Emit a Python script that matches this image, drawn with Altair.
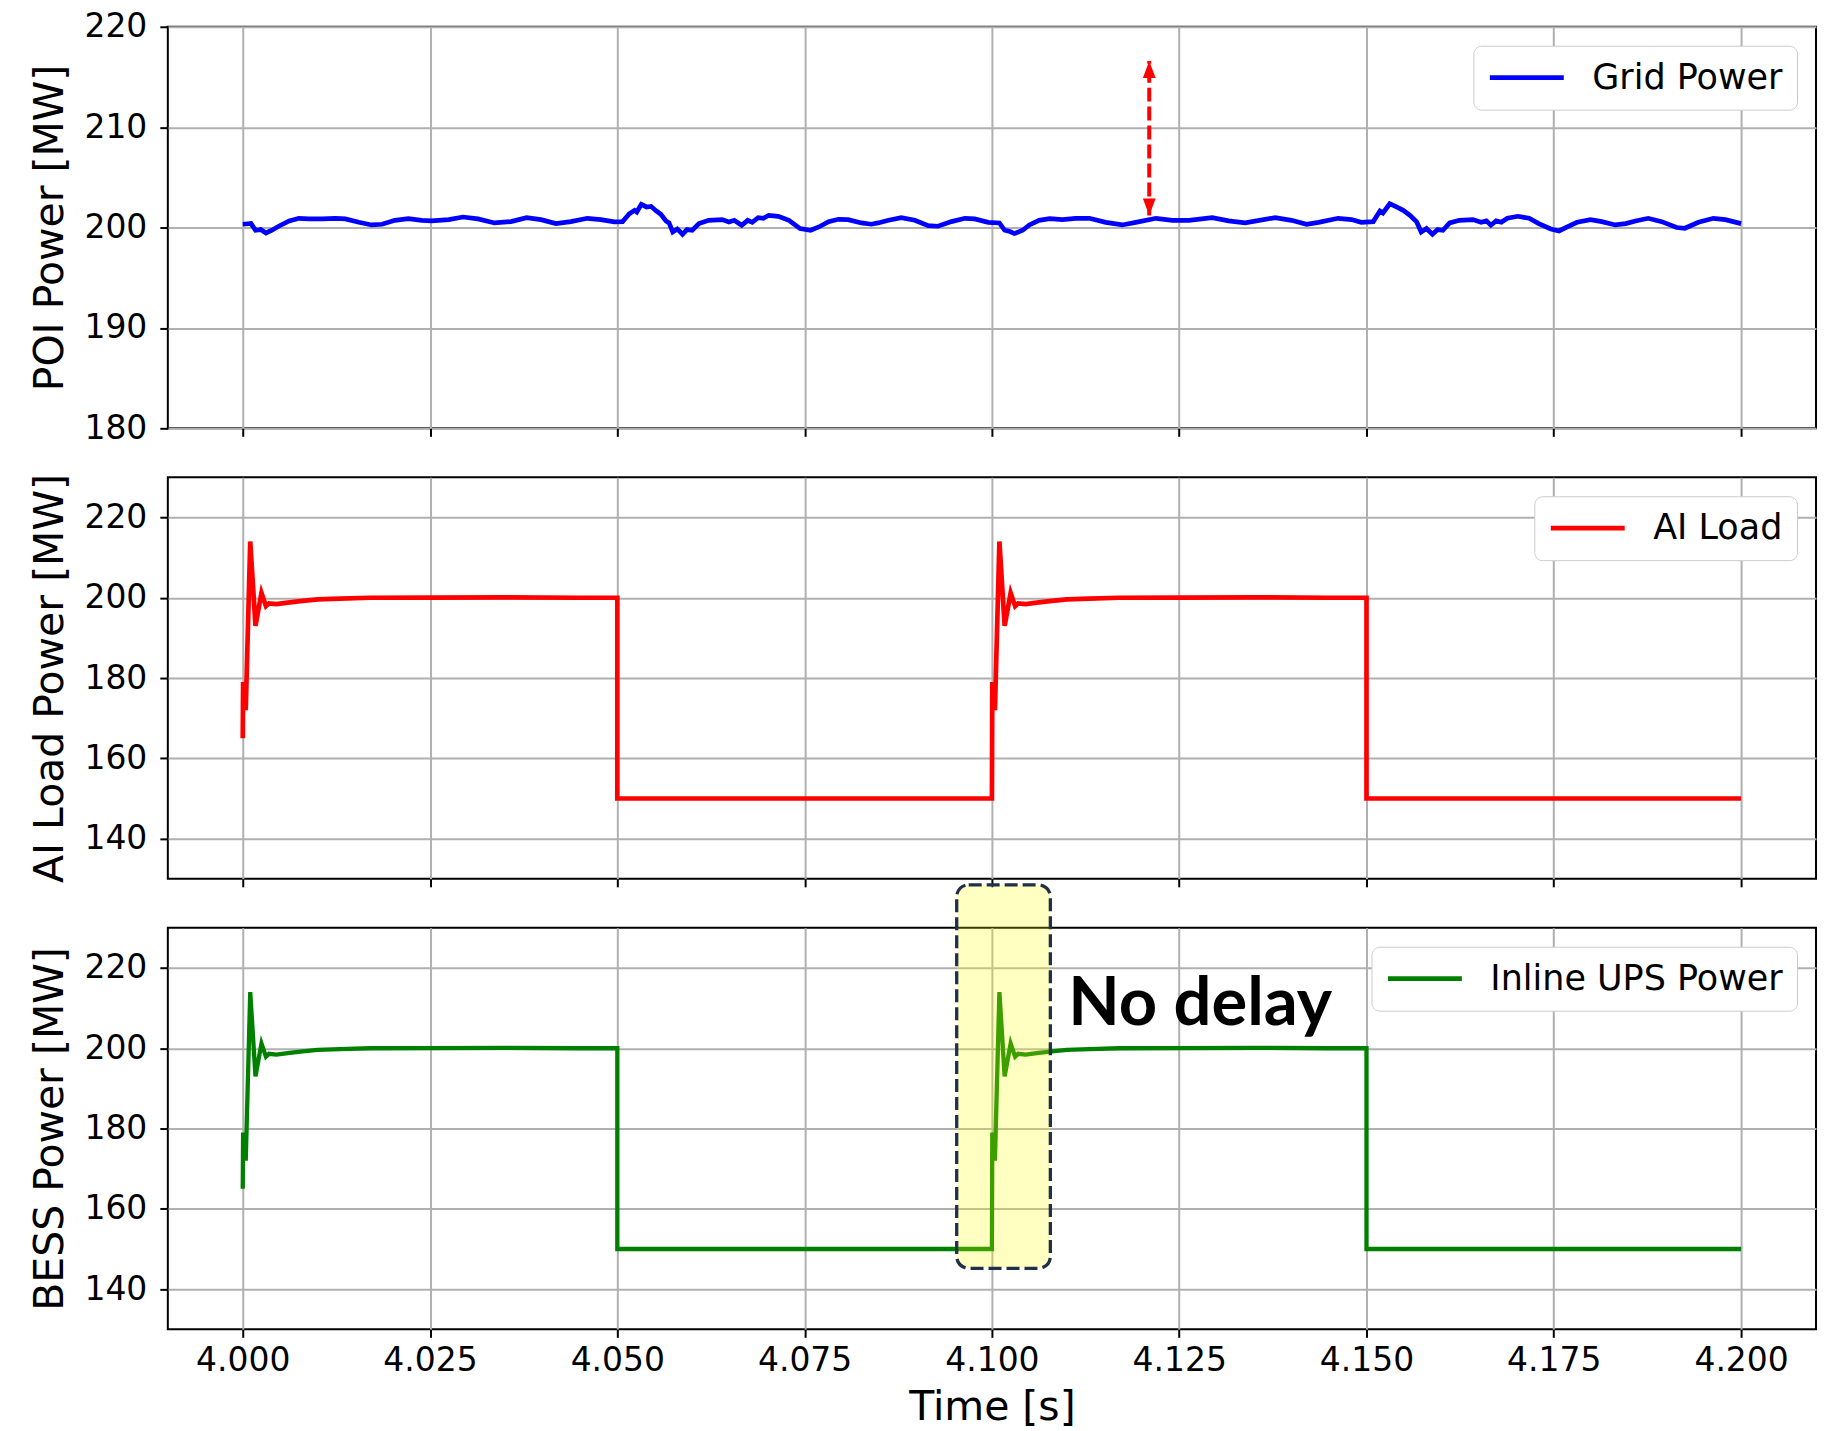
import altair as alt
import pandas as pd

# ---------------- data ----------------
grid_t = [4.0000, 4.0011, 4.0017, 4.0024, 4.0031, 4.0039, 4.0048, 4.0062, 4.0075, 4.0088,
          4.0106, 4.0124, 4.0137, 4.0155, 4.0172, 4.0186, 4.0203, 4.0221, 4.0239, 4.0252,
          4.0275, 4.0294, 4.0314, 4.0336, 4.0358, 4.0379, 4.0398, 4.0418, 4.0438, 4.0460,
          4.0478, 4.0496, 4.0507, 4.0516, 4.0523, 4.0526, 4.0532, 4.0539, 4.0545, 4.0552,
          4.0558, 4.0565, 4.0569, 4.0574, 4.0580, 4.0587, 4.0593, 4.0600, 4.0609, 4.0622,
          4.0640, 4.0649, 4.0656, 4.0666, 4.0674, 4.0680, 4.0688, 4.0695, 4.0702, 4.0715,
          4.0729, 4.0744, 4.0758, 4.0769, 4.0782, 4.0795, 4.0808, 4.0826, 4.0839, 4.0848,
          4.0862, 4.0879, 4.0897, 4.0915, 4.0928, 4.0946, 4.0964, 4.0977, 4.0995, 4.1010,
          4.1017, 4.1024, 4.1030, 4.1041, 4.1050, 4.1063, 4.1077, 4.1094, 4.1112, 4.1130,
          4.1152, 4.1174, 4.1192, 4.1219, 4.1241, 4.1263, 4.1294, 4.1316, 4.1338, 4.1378,
          4.1400, 4.1420, 4.1436, 4.1462, 4.1480, 4.1493, 4.1509, 4.1518, 4.1522, 4.1531,
          4.1540, 4.1549, 4.1558, 4.1567, 4.1573, 4.1580, 4.1588, 4.1595, 4.1602, 4.1611,
          4.1624, 4.1642, 4.1653, 4.1660, 4.1666, 4.1673, 4.1680, 4.1688, 4.1702, 4.1717,
          4.1730, 4.1746, 4.1757, 4.1768, 4.1781, 4.1799, 4.1814, 4.1832, 4.1846, 4.1859,
          4.1876, 4.1894, 4.1914, 4.1925, 4.1943, 4.1963, 4.1979, 4.2000]
grid_mw = [200.33, 200.40, 199.73, 199.80, 199.46, 199.73, 200.13, 200.65, 200.92, 200.86,
           200.86, 200.92, 200.86, 200.52, 200.26, 200.33, 200.72, 200.89, 200.72, 200.66,
           200.79, 201.05, 200.86, 200.46, 200.59, 200.99, 200.79, 200.39, 200.59, 200.92,
           200.79, 200.56, 200.59, 201.38, 201.72, 201.55, 202.31, 202.05, 202.11, 201.65,
           201.32, 200.65, 200.46, 199.56, 199.86, 199.33, 199.80, 199.73, 200.39, 200.72,
           200.79, 200.56, 200.72, 200.23, 200.72, 200.52, 200.99, 200.92, 201.22, 201.12,
           200.72, 199.90, 199.73, 200.06, 200.59, 200.82, 200.79, 200.46, 200.33, 200.46,
           200.72, 200.99, 200.72, 200.19, 200.13, 200.59, 200.92, 200.86, 200.52, 200.46,
           199.73, 199.60, 199.40, 199.73, 200.26, 200.72, 200.89, 200.79, 200.92, 200.92,
           200.52, 200.26, 200.52, 200.92, 200.72, 200.72, 200.99, 200.66, 200.46, 200.99,
           200.72, 200.33, 200.52, 200.92, 200.79, 200.52, 200.59, 201.65, 201.45, 202.37,
           202.05, 201.72, 201.22, 200.56, 199.56, 199.90, 199.33, 199.80, 199.73, 200.46,
           200.72, 200.79, 200.52, 200.66, 200.23, 200.66, 200.52, 200.92, 201.12, 200.92,
           200.39, 199.86, 199.66, 200.06, 200.52, 200.79, 200.59, 200.26, 200.39, 200.66,
           200.92, 200.59, 200.00, 199.93, 200.52, 200.92, 200.79, 200.39]

load_t = [4.0000, 4.00005, 4.0004, 4.0010, 4.0017, 4.0025, 4.0031, 4.0035, 4.0045, 4.0060,
          4.0080, 4.0100, 4.0130, 4.0170, 4.0250, 4.0350, 4.0450, 4.0500, 4.0500, 4.1000,
          4.1000, 4.10005, 4.1004, 4.1010, 4.1017, 4.1025, 4.1031, 4.1035, 4.1045, 4.1060,
          4.1080, 4.1100, 4.1130, 4.1170, 4.1250, 4.1350, 4.1450, 4.1500, 4.1500, 4.2000]
load_mw = [165.0, 179.0, 172.0, 214.0, 193.0, 201.2, 197.9, 198.6, 198.4, 198.8,
           199.2, 199.6, 199.8, 200.0, 200.05, 200.1, 200.0, 200.0, 150.0, 150.0,
           150.0, 179.0, 172.0, 214.0, 193.0, 201.2, 197.9, 198.6, 198.4, 198.8,
           199.2, 199.6, 199.8, 200.0, 200.05, 200.1, 200.0, 200.0, 150.0, 150.0]

bess_t = [4.0000, 4.00005, 4.0004, 4.0010, 4.0017, 4.0025, 4.0031, 4.0035, 4.0045, 4.0060,
          4.0080, 4.0100, 4.0130, 4.0170, 4.0250, 4.0350, 4.0450, 4.0500, 4.0500, 4.1000,
          4.1000, 4.10005, 4.1004, 4.1010, 4.1017, 4.1025, 4.1031, 4.1035, 4.1045, 4.1060,
          4.1080, 4.1100, 4.1130, 4.1170, 4.1250, 4.1350, 4.1450, 4.1500, 4.1500, 4.2000]
bess_mw = [165.0, 179.0, 172.0, 214.0, 193.0, 201.2, 197.9, 198.6, 198.4, 198.8,
           199.2, 199.6, 199.8, 200.0, 200.05, 200.1, 200.0, 200.0, 150.0, 150.0,
           150.0, 179.0, 172.0, 214.0, 193.0, 201.2, 197.9, 198.6, 198.4, 198.8,
           199.2, 199.6, 199.8, 200.0, 200.05, 200.1, 200.0, 200.0, 150.0, 150.0]

x_ticks = [4.000, 4.025, 4.050, 4.075, 4.100, 4.125, 4.150, 4.175, 4.200]
poi_ticks = [180, 190, 200, 210, 220]
load_ticks = [140, 160, 180, 200, 220]

series_names = ["Grid Power", "AI Load", "Inline UPS Power"]
series_colors = ["#0000ff", "#ff0000", "#008000"]

# annotations (data coordinates)
arrow_t, arrow_lo, arrow_hi = 4.1210, 201.2, 216.6
box_t0, box_t1, box_lo, box_hi = 4.0953, 4.1078, 145.2, 240.7
note_t, note_mw, note_text = 4.1102, 205.8, "No delay"

# ---------------- chart ----------------
FONT = "DejaVu Sans"
W, H = 1650, 402

x_scale = alt.Scale(domain=[3.99, 4.21], nice=False, zero=False)


def x_axis(show):
    if show:
        return alt.Axis(values=x_ticks, format=".3f", title="Time [s]")
    return alt.Axis(values=x_ticks, labels=False, title=None)


def legend():
    return alt.Legend(title=None, orient="top-right", offset=19, padding=14,
                      cornerRadius=8, strokeColor="#cccccc", fillColor="white",
                      labelFont=FONT, labelFontSize=35, labelColor="black", labelLimit=1000,
                      symbolType="stroke", symbolStrokeWidth=4.7, symbolSize=5476,
                      labelOffset=26, clipHeight=36)


def line_df(ts, vs, name):
    return pd.DataFrame({"t": ts, "mw": vs, "i": list(range(len(ts))), "series": name})


def panel(ts, vs, k, ydomain, yticks, ytitle, show_x, stroke_w):
    y_scale = alt.Scale(domain=ydomain, nice=False, zero=False)
    y_axis = alt.Axis(values=yticks, title=ytitle)
    line = alt.Chart(line_df(ts, vs, series_names[k])).mark_line(strokeWidth=stroke_w).encode(
        x=alt.X("t:Q", scale=x_scale, axis=x_axis(show_x)),
        y=alt.Y("mw:Q", scale=y_scale, axis=y_axis),
        order="i:Q",
        color=alt.Color("series:N",
                        scale=alt.Scale(domain=[series_names[k]], range=[series_colors[k]]),
                        legend=legend()),
    )
    return line, y_scale, y_axis


# top panel
top_line, top_ys, top_ya = panel(grid_t, grid_mw, 0, [180, 220], poi_ticks,
                                 "POI Power [MW]", False, 4.7)
arrow_df = pd.DataFrame({"t": [arrow_t], "lo": [arrow_lo], "hi": [arrow_hi]})
arrow_rule = alt.Chart(arrow_df).mark_rule(color="#ff0000", strokeWidth=4,
                                           strokeDash=[14, 5]).encode(
    x=alt.X("t:Q", scale=x_scale, axis=x_axis(False)),
    y=alt.Y("lo:Q", scale=top_ys, axis=top_ya),
    y2="hi:Q",
)
up_path = "M0,0L0.75,2L-0.75,2Z"
down_path = "M0,0L0.75,-2L-0.75,-2Z"
head_up = alt.Chart(arrow_df).mark_point(shape=up_path, filled=True, size=289,
                                         color="#ff0000", opacity=1, strokeWidth=0).encode(
    x=alt.X("t:Q", scale=x_scale, axis=x_axis(False)),
    y=alt.Y("hi:Q", scale=top_ys, axis=top_ya),
)
head_down = alt.Chart(arrow_df).mark_point(shape=down_path, filled=True, size=289,
                                           color="#ff0000", opacity=1, strokeWidth=0).encode(
    x=alt.X("t:Q", scale=x_scale, axis=x_axis(False)),
    y=alt.Y("lo:Q", scale=top_ys, axis=top_ya),
)
top = alt.layer(top_line, arrow_rule, head_up, head_down).properties(width=W, height=H)

# middle panel
mid_line, _, _ = panel(load_t, load_mw, 1, [130, 230], load_ticks,
                       "AI Load Power [MW]", False, 4.7)
mid = mid_line.properties(width=W, height=H)

# bottom panel
bot_line, bot_ys, bot_ya = panel(bess_t, bess_mw, 2, [130, 230], load_ticks,
                                 "BESS Power [MW]", True, 4.3)
box_df = pd.DataFrame({"t0": [box_t0], "t1": [box_t1], "lo": [box_lo], "hi": [box_hi]})
box = alt.Chart(box_df).mark_rect(fill="#ffff00", fillOpacity=0.24, stroke="#1f3048",
                                  strokeWidth=3.3, strokeDash=[13, 5], cornerRadius=12,
                                  clip=False).encode(
    x=alt.X("t0:Q", scale=x_scale, axis=x_axis(True)),
    x2="t1:Q",
    y=alt.Y("lo:Q", scale=bot_ys, axis=bot_ya),
    y2="hi:Q",
)
note_df = pd.DataFrame({"t": [note_t], "mw": [note_mw], "label": [note_text]})
note = alt.Chart(note_df).mark_text(font="Lato", fontSize=67, fontWeight="bold",
                                    align="left", baseline="alphabetic",
                                    color="black").encode(
    x=alt.X("t:Q", scale=x_scale, axis=x_axis(True)),
    y=alt.Y("mw:Q", scale=bot_ys, axis=bot_ya),
    text="label:N",
)
bot = alt.layer(bot_line, box, note).properties(width=W, height=H)

chart = (
    alt.vconcat(top, mid, bot, spacing=49, bounds="flush")
    .resolve_scale(y="independent", color="independent")
    .resolve_legend(color="independent")
    .properties(padding={"left": 21, "top": 1, "right": 0, "bottom": 0})
    .configure_view(stroke="black", strokeWidth=2)
    .configure_axis(labelFont=FONT, titleFont=FONT, labelColor="black", titleColor="black",
                    titleFontWeight="normal", labelFontSize=33, titleFontSize=41,
                    tickSize=8, tickWidth=2, tickColor="black", domain=False,
                    gridColor="#b0b0b0", gridWidth=2)
    .configure_axisY(labelPadding=13, titlePadding=12)
    .configure_axisX(labelPadding=7, titlePadding=10)
)

chart.save("out.html", embed_options={"renderer": "svg", "actions": False})
